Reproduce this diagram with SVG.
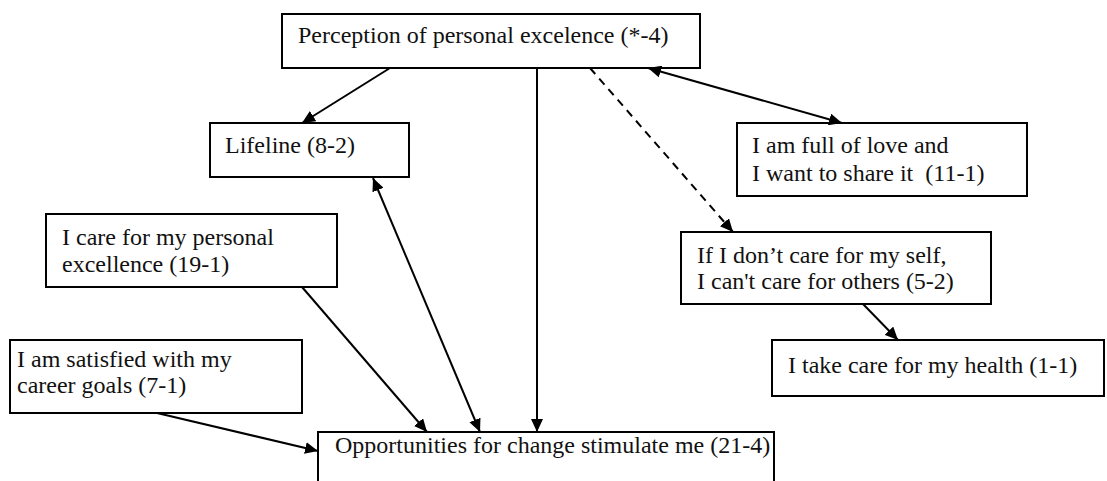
<svg xmlns="http://www.w3.org/2000/svg" width="1107" height="481" viewBox="0 0 1107 481">
<style>
.box{fill:#fff;stroke:#000;stroke-width:2}
.t{font-family:'Liberation Serif','Times New Roman','DejaVu Serif',serif;font-size:24px;fill:#111}
.c{stroke:#000;stroke-width:2;fill:none}
.d{stroke-dasharray:8 6}
</style>
<defs>
<marker id="ah" markerUnits="userSpaceOnUse" markerWidth="14" markerHeight="12" refX="13" refY="6" orient="auto-start-reverse">
<path d="M0,0 L13,6 L0,12 z" fill="#000"/>
</marker>
</defs>
<rect width="1107" height="481" fill="#fff"/>
<g id="n-top"><rect class="box" x="282" y="14" width="418" height="54"/><text class="t" x="298" y="43">Perception of personal excelence (*-4)</text></g>
<g id="n-lifeline"><rect class="box" x="210" y="123" width="199" height="54"/><text class="t" x="225" y="153">Lifeline (8-2)</text></g>
<g id="n-love"><rect class="box" x="737" y="123" width="290" height="73"/><text class="t" x="752" y="153">I am full of love and</text><text class="t" x="752" y="181" xml:space="preserve">I want to share it  (11-1)</text></g>
<g id="n-care"><rect class="box" x="46" y="214" width="291" height="73"/><text class="t" x="62" y="245">I care for my personal</text><text class="t" x="62" y="272">excellence (19-1)</text></g>
<g id="n-if"><rect class="box" x="681" y="232" width="310" height="72"/><text class="t" x="697" y="263">If I don’t care for my self,</text><text class="t" x="697" y="289">I can't care for others (5-2)</text></g>
<g id="n-health"><rect class="box" x="772" y="340" width="332" height="56"/><text class="t" x="788" y="373">I take care for my health (1-1)</text></g>
<g id="n-satisfied"><rect class="box" x="10" y="340" width="292" height="73"/><text class="t" x="17" y="367">I am satisfied with my</text><text class="t" x="17" y="393">career goals (7-1)</text></g>
<g id="n-opp"><rect class="box" x="318" y="432" width="456" height="60"/><text class="t" x="335" y="453">Opportunities for change stimulate me (21-4)</text></g>
<g id="connectors">
<line class="c" x1="390" y1="68" x2="302" y2="123" marker-end="url(#ah)"/>
<line class="c" x1="537" y1="68" x2="537" y2="432" marker-end="url(#ah)"/>
<line class="c d" x1="590" y1="68" x2="733" y2="232" marker-end="url(#ah)"/>
<line class="c" x1="648" y1="68" x2="842" y2="123" marker-start="url(#ah)" marker-end="url(#ah)"/>
<line class="c" x1="373" y1="178" x2="480" y2="432" marker-start="url(#ah)" marker-end="url(#ah)"/>
<line class="c" x1="302" y1="287" x2="427" y2="432" marker-end="url(#ah)"/>
<line class="c" x1="157" y1="413" x2="318" y2="451" marker-end="url(#ah)"/>
<line class="c" x1="863" y1="304" x2="898" y2="340" marker-end="url(#ah)"/>
</g>
</svg>
